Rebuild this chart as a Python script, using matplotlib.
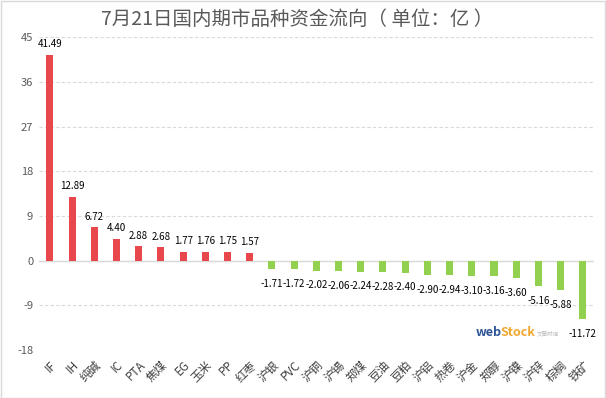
import matplotlib
matplotlib.use("Agg")
import matplotlib.pyplot as plt
from matplotlib.patches import Rectangle
import numpy as np

plt.rcParams['font.family'] = ['Noto Sans CJK SC', 'DejaVu Sans']

# 品种 & 资金流向 (亿)
categories = ['IF', 'IH', '纯碱', 'IC', 'PTA', '焦煤', 'EG', '玉米', 'PP', '红枣',
              '沪银', 'PVC', '沪铜', '沪锡', '郑煤', '豆油', '豆粕', '沪铝', '热卷',
              '沪金', '郑醇', '沪镍', '沪锌', '棕榈', '铁矿']
values = [41.49, 12.89, 6.72, 4.40, 2.88, 2.68, 1.77, 1.76, 1.75, 1.57,
          -1.71, -1.72, -2.02, -2.06, -2.24, -2.28, -2.40, -2.90, -2.94,
          -3.10, -3.16, -3.60, -5.16, -5.88, -11.72]
yticks = [-18, -9, 0, 9, 18, 27, 36, 45]

red = '#E8474C'
green = '#92D050'
gray_txt = '#595959'

fig = plt.figure(figsize=(6.06, 3.98), dpi=100)
ax = fig.add_axes([0.064, 0.1206, 0.916, 0.786])

x = np.arange(len(categories))
cols = [red if v > 0 else green for v in values]
ax.bar(x, values, width=0.32, color=cols, zorder=3)

for xi, v in zip(x, values):
    if v > 0:
        ax.annotate(f'{v:.2f}', (xi, v), xytext=(0, 4), textcoords='offset points',
                    ha='center', va='bottom', fontsize=7, color='black')
    else:
        ax.annotate(f'{v:.2f}', (xi, v), xytext=(0, -7), textcoords='offset points',
                    ha='center', va='top', fontsize=7, color='black')

ax.set_xlim(-0.5, len(categories) - 0.5)
ax.set_ylim(-18, 45)
ax.set_yticks(yticks)
ax.set_yticklabels([str(t) for t in yticks], fontsize=8, color=gray_txt)
ax.set_xticks(x)
ax.set_xticklabels(categories, rotation=45, fontsize=8.5, color='#404040',
                   ha='right', va='top', rotation_mode='anchor')

ax.grid(axis='y', color='#D9D9D9', linestyle=(0, (3, 2)), linewidth=0.8, zorder=0)
ax.axhline(0, color='#D9D9D9', linewidth=1, zorder=2)
for s in ax.spines.values():
    s.set_visible(False)
ax.tick_params(axis='y', length=0, pad=4)
ax.tick_params(axis='x', length=0, pad=6)

fig.text(0.49, 0.95, '7月21日国内期市品种资金流向（ 单位：亿 ）', ha='center', va='center',
         fontsize=14, color=gray_txt)

# 水印
fig.text(0.785, 0.155, 'web', fontsize=9, color='#2F5597', fontweight='bold', ha='left')
fig.text(0.826, 0.155, 'Stock', fontsize=9, color='#F0A830', fontweight='bold', ha='left')
fig.text(0.886, 0.158, '文華財經', fontsize=4, color='#BFBFBF', ha='left')

fig.patches.append(Rectangle((0.001, 0.001), 0.997, 0.997, transform=fig.transFigure,
                             fill=False, edgecolor='#D9D9D9', linewidth=1))

fig.savefig('out.png', dpi=100)
